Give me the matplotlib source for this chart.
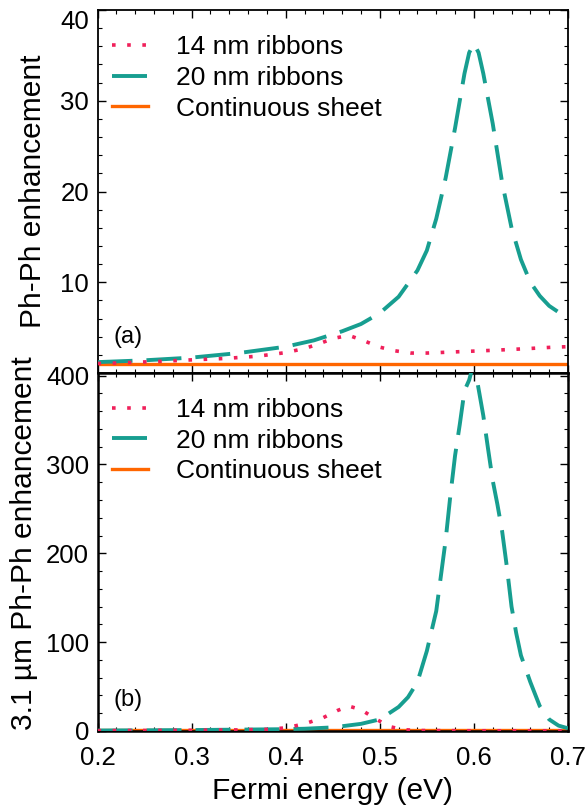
import matplotlib
matplotlib.use("Agg")
import matplotlib.pyplot as plt
from matplotlib.ticker import MultipleLocator

plt.rcParams['font.family'] = ['Liberation Sans', 'DejaVu Sans']

# panel (a): Ph-Ph enhancement
x_a_20nm = [0.20, 0.25, 0.30, 0.35, 0.40, 0.43, 0.46, 0.48, 0.50, 0.52, 0.54, 0.55,
            0.56, 0.57, 0.58, 0.59, 0.595, 0.60, 0.605, 0.61, 0.62, 0.63, 0.64,
            0.65, 0.66, 0.67, 0.68, 0.69, 0.70]
y_a_20nm = [1.2, 1.4, 1.7, 2.2, 2.9, 3.6, 4.6, 5.4, 6.6, 8.4, 11.3, 13.5,
            17.0, 21.5, 27.0, 33.0, 35.3, 36.3, 35.3, 33.0, 27.5, 21.0, 16.0,
            12.5, 10.0, 8.5, 7.4, 6.7, 6.1]
x_a_14nm = [0.20, 0.22, 0.27, 0.30, 0.335, 0.37, 0.40, 0.42, 0.435, 0.45, 0.467,
            0.482, 0.50, 0.516, 0.533, 0.55, 0.585, 0.62, 0.65, 0.685, 0.70]
y_a_14nm = [1.05, 1.1, 1.3, 1.45, 1.6, 1.85, 2.25, 2.7, 3.2, 3.8, 4.15,
            3.6, 2.85, 2.45, 2.2, 2.2, 2.35, 2.5, 2.65, 2.85, 2.9]
x_sheet = [0.20, 0.70]
y_a_sheet = [1.0, 1.0]

# panel (b): 3.1 um Ph-Ph enhancement
x_b_20nm = [0.20, 0.30, 0.40, 0.42, 0.45, 0.48, 0.50, 0.52, 0.53, 0.54, 0.55,
            0.56, 0.565, 0.57, 0.575, 0.58, 0.585, 0.59, 0.595, 0.60, 0.605,
            0.61, 0.615, 0.62, 0.625, 0.63, 0.635, 0.64, 0.645, 0.65, 0.66,
            0.67, 0.68, 0.69, 0.70]
y_b_20nm = [0.5, 1.0, 2.0, 2.5, 4.0, 8.0, 13, 27, 38, 55, 90,
            135, 175, 215, 265, 310, 345, 383, 395, 415, 385,
            355, 318, 282, 255, 225, 185, 140, 110, 85, 55,
            28, 13, 6, 3]
x_b_14nm = [0.20, 0.30, 0.35, 0.38, 0.40, 0.42, 0.44, 0.455, 0.467, 0.48, 0.495,
            0.51, 0.525, 0.54, 0.60, 0.70]
y_b_14nm = [0.3, 0.8, 1.2, 1.8, 3.5, 8, 15, 23, 28, 24, 14,
            5, 1.5, 0.5, 0.2, 0.2]
y_b_sheet = [1.0, 1.0]

red = '#f0205a'
teal = '#179e90'
orange = '#ff6600'
fs_tick = 18.5
fs_label = 21.5
fs_leg = 19

fig = plt.figure(figsize=(5.87, 8.06), dpi=100)
ax_a = fig.add_axes([0.1661, 0.5372, 0.8015, 0.4504])
ax_b = fig.add_axes([0.1661, 0.0931, 0.8015, 0.4442])

panels = [(ax_a, x_a_14nm, y_a_14nm, x_a_20nm, y_a_20nm, y_a_sheet),
          (ax_b, x_b_14nm, y_b_14nm, x_b_20nm, y_b_20nm, y_b_sheet)]
for ax, x14, y14, x20, y20, ysh in panels:
    l_sheet, = ax.plot(x_sheet, ysh, color=orange, lw=2.4, zorder=2)
    l_20, = ax.plot(x20, y20, color=teal, lw=2.8, dashes=(9, 3.6), zorder=3)
    l_14, = ax.plot(x14, y14, color=red, lw=2.6, dashes=(1, 3.2), zorder=4)
    ax.legend([l_14, l_20, l_sheet], ['14 nm ribbons', '20 nm ribbons', 'Continuous sheet'],
              loc='upper left', bbox_to_anchor=(0.031, 0.93), borderaxespad=0, borderpad=0,
              frameon=False, fontsize=fs_leg, handlelength=1.37, handletextpad=1.05,
              labelspacing=0.25)
    ax.set_xlim(0.2, 0.7)
    ax.xaxis.set_major_locator(MultipleLocator(0.1))
    ax.xaxis.set_minor_locator(MultipleLocator(0.02))
    ax.tick_params(which='both', direction='in', top=True, right=True, labelsize=fs_tick,
                   pad=6)
    ax.tick_params(axis='x', which='both', pad=11)
    ax.tick_params(which='major', length=5.5, width=1.0)
    ax.tick_params(which='minor', length=3, width=0.8)

ax_a.set_ylim(0, 40)
ax_a.set_yticks([10, 20, 30, 40])
ax_a.yaxis.set_minor_locator(MultipleLocator(2))
ax_a.tick_params(labelbottom=False)
# the top label sits just below the frame edge, as in the original
ax_a.yaxis.get_major_ticks()[-1].label1.set_verticalalignment('top')
for s in ax_a.spines.values():
    s.set_linewidth(1.3)
ax_a.set_ylabel('Ph-Ph enhancement', fontsize=fs_label, labelpad=10)
ax_a.text(0.033, 0.099, '(a)', transform=ax_a.transAxes, fontsize=17, va='center')

ax_b.set_ylim(0, 403)
ax_b.yaxis.set_major_locator(MultipleLocator(100))
ax_b.yaxis.set_minor_locator(MultipleLocator(20))
for s in ax_b.spines.values():
    s.set_linewidth(1.8)
ax_b.set_ylabel('3.1 µm Ph-Ph enhancement', fontsize=fs_label, labelpad=6)
ax_b.yaxis.label.set_y(0.525)
ax_b.set_xlabel('Fermi energy (eV)', fontsize=fs_label, labelpad=5)
ax_b.text(0.033, 0.087, '(b)', transform=ax_b.transAxes, fontsize=17, va='center')

fig.savefig('out.png', dpi=100)
